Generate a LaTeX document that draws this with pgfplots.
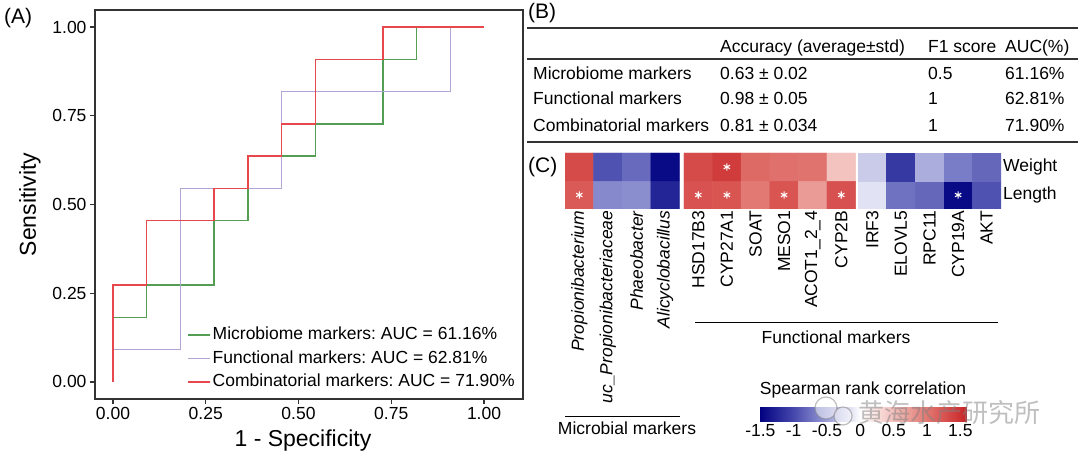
\documentclass[border=0pt]{standalone}
\usepackage{fontspec}
\setmainfont{Liberation Sans}
\newfontfamily\cjk{Noto Sans CJK SC}
\usepackage{pgfplots}
\pgfplotsset{compat=1.18}
\usetikzlibrary{calc}

\definecolor{rocgreen}{RGB}{84,158,84}
\definecolor{rocpurple}{RGB}{178,164,212}
\definecolor{rocred}{RGB}{232,72,76}
\definecolor{frame}{RGB}{51,51,51}

\newcommand\fs{\fontsize{17.5}{21}\selectfont}
\newcommand\fl{\fontsize{23}{27}\selectfont}
\newcommand\fp{\fontsize{21}{25}\selectfont}

\pgfplotsset{/pgf/number format/assume math mode=true}
\frenchspacing

\begin{document}
\begin{tikzpicture}[x=1pt,y=1pt]
\useasboundingbox (0,0) rectangle (1080,460);

% (A) ROC curves
\begin{axis}[
  at={(95pt,61pt)}, anchor=south west,
  scale only axis, width=428pt, height=389pt,
  xmin=-0.0485, xmax=1.105, ymin=-0.048, ymax=1.048,
  xtick={0,0.25,0.5,0.75,1}, ytick={0,0.25,0.5,0.75,1},
  xticklabels={0.00,0.25,0.50,0.75,1.00},
  yticklabels={0.00,0.25,0.50,0.75,1.00},
  tick align=outside, xtick pos=left, ytick pos=left,
  major tick length=5pt,
  axis line style={frame, line width=1.3pt},
  every tick/.style={frame, line width=1.1pt},
  tick label style={font=\fs, text=black},
  xlabel={1 - Specificity}, ylabel={Sensitivity},
  label style={font=\fl},
  xlabel shift=3pt, ylabel shift=5pt,
  xlabel style={xshift=-6pt},
  legend cell align=left,
  legend image code/.code={\draw[#1] (0pt,0pt) -- (22pt,0pt);},
  legend style={at={(0.215,0.017)}, anchor=south west, draw=none, fill=none,
    font=\fs, row sep=3.5pt, inner sep=0pt,
    nodes={inner sep=2pt, text height=12.5pt, text depth=3.5pt}},
]
\addplot[rocgreen, line width=1.5pt] coordinates {
  (0,0) (0,0.1818) (0.0909,0.1818) (0.0909,0.2727) (0.2727,0.2727)
  (0.2727,0.4545) (0.3636,0.4545) (0.3636,0.5455) (0.4545,0.5455)
  (0.4545,0.6364) (0.5455,0.6364) (0.5455,0.7273) (0.7273,0.7273)
  (0.7273,0.9091) (0.8182,0.9091) (0.8182,1) (1,1)};
\addlegendentry{Microbiome markers: AUC = 61.16\%}
\addplot[rocpurple, line width=1.5pt] coordinates {
  (0,0) (0,0.0909) (0.1818,0.0909) (0.1818,0.5455) (0.4545,0.5455)
  (0.4545,0.8182) (0.9091,0.8182) (0.9091,1) (1,1)};
\addlegendentry{Functional markers: AUC = 62.81\%}
\addplot[rocred, line width=1.5pt] coordinates {
  (0,0) (0,0.2727) (0.0909,0.2727) (0.0909,0.4545) (0.2727,0.4545)
  (0.2727,0.5455) (0.3636,0.5455) (0.3636,0.6364) (0.4545,0.6364)
  (0.4545,0.7273) (0.5455,0.7273) (0.5455,0.9091) (0.7273,0.9091)
  (0.7273,1) (1,1)};
\addlegendentry{Combinatorial markers: AUC = 71.90\%}
\end{axis}

% (C) heatmap of Spearman correlations
\begin{axis}[
  at={(565pt,251pt)}, anchor=south west,
  scale only axis, width=436pt, height=56pt,
  xmin=-0.5, xmax=14.745, ymin=-0.5, ymax=1.5,
  axis line style={draw=none}, major tick length=0pt,
  xtick={0,1,2,3,4.16,5.16,6.16,7.16,8.16,9.16,10.245,11.245,12.245,13.245,14.245},
  xticklabels={\textit{Propionibacterium},\textit{uc\_Propionibacteriaceae},
    \textit{Phaeobacter},\textit{Alicyclobacillus},HSD17B3,CYP27A1,SOAT,MESO1,
    ACOT1\_2\_4,CYP2B,IRF3,ELOVL5,RPC11,CYP19A,AKT},
  xticklabel style={rotate=90, anchor=east, inner sep=1.5pt, font=\fs},
  ytick={0,1}, yticklabels={Length,Weight}, yticklabel pos=right,
  yticklabel style={anchor=west, inner sep=2pt, font=\fs},
  colormap={spear}{rgb255(0pt)=(0,0,128) rgb255(52pt)=(70,72,172)
    rgb255(102pt)=(155,158,215) rgb255(152pt)=(255,255,255)
    rgb255(202pt)=(242,190,186) rgb255(252pt)=(226,118,112)
    rgb255(312pt)=(200,35,38)},
  point meta min=-1.52, point meta max=1.6,
  colorbar horizontal,
  colorbar style={
    at={($(parent axis.south west)+(194pt,-204pt)$)}, anchor=south west,
    scale only axis, width=208pt, height=15pt,
    xtick={-1.5,-1,-0.5,0,0.5,1,1.5},
    /pgf/number format/assume math mode=true,
    xticklabel style={font=\fs, inner sep=3pt},
    axis line style={draw=none}, major tick length=0pt,
    title={Spearman rank correlation}, title style={font=\fs, inner sep=2pt},
  },
]
\addplot[matrix plot*, mesh/cols=4, point meta=explicit] coordinates {
  (0,0) [1.20] (1,0) [-0.62] (2,0) [-0.60] (3,0) [-1.26]
  (0,1) [1.31] (1,1) [-0.94] (2,1) [-0.80] (3,1) [-1.45]};
\addplot[matrix plot*, mesh/cols=6, point meta=explicit] coordinates {
  (4.16,0) [1.26] (5.16,0) [1.24] (6.16,0) [0.98] (7.16,0) [1.24] (8.16,0) [0.74] (9.16,0) [1.27]
  (4.16,1) [1.31] (5.16,1) [1.42] (6.16,1) [1.09] (7.16,1) [1.04] (8.16,1) [1.02] (9.16,1) [0.46]};
\addplot[matrix plot*, mesh/cols=5, point meta=explicit] coordinates {
  (10.245,0) [-0.15] (11.245,0) [-0.76] (12.245,0) [-0.82] (13.245,0) [-1.45] (14.245,0) [-0.94]
  (10.245,1) [-0.27] (11.245,1) [-1.11] (12.245,1) [-0.42] (13.245,1) [-0.70] (14.245,1) [-0.82]};
% significant cells
\addplot[only marks, mark=asterisk, mark size=3.6pt, white, line width=1.1pt] coordinates {
  (0,0) (4.16,0) (5.16,1) (5.16,0) (7.16,0) (9.16,0) (13.245,0)};
\end{axis}

% panel letters
\node[anchor=base west, inner sep=0pt, font=\fp] at (4,436) {(A)};
\node[anchor=base west, inner sep=0pt, font=\fp] at (528,441) {(B)};
\node[anchor=base west, inner sep=0pt, font=\fp] at (528,287) {(C)};

% (B) table
\draw[frame, line width=1.3pt] (527,432) -- (1078,432);
\draw[frame, line width=1.3pt] (527,401) -- (1078,401);
\draw[frame, line width=1.3pt] (527,318) -- (1078,318);
\begin{scope}[every node/.style={anchor=base west, inner sep=0pt, font=\fs}]
\node at (720,407) {Accuracy (average±std)};
\node at (928,407) {F1 score};
\node at (1005,407) {AUC(\%)};
\node at (533,380) {Microbiome markers};
\node at (720,380) {0.63 ± 0.02};
\node at (928,380) {0.5};
\node at (1005,380) {61.16\%};
\node at (533,355) {Functional markers};
\node at (720,355) {0.98 ± 0.05};
\node at (928,355) {1};
\node at (1005,355) {62.81\%};
\node at (533,328) {Combinatorial markers};
\node at (720,328) {0.81 ± 0.034};
\node at (928,328) {1};
\node at (1005,328) {71.90\%};
\end{scope}

% group annotations of (C)
\draw[black, line width=1pt] (695,137) -- (998,137);
\node[anchor=base, inner sep=0pt, font=\fs] at (836,116) {Functional markers};
\draw[black, line width=1pt] (565,43) -- (680,43);
\node[anchor=base, inner sep=0pt, font=\fs] at (627,25) {Microbial markers};

% watermark
\begin{scope}[opacity=0.5]
\draw[gray, line width=1.2pt, fill=white] (826,52) circle (11);
\draw[gray, line width=1.2pt, fill=white] (843,44) circle (9);
\node[anchor=west, inner sep=0pt, text=gray, font=\cjk\fontsize{26}{30}\selectfont] at (858,47) {黄海水产研究所};
\end{scope}
\end{tikzpicture}
\end{document}
